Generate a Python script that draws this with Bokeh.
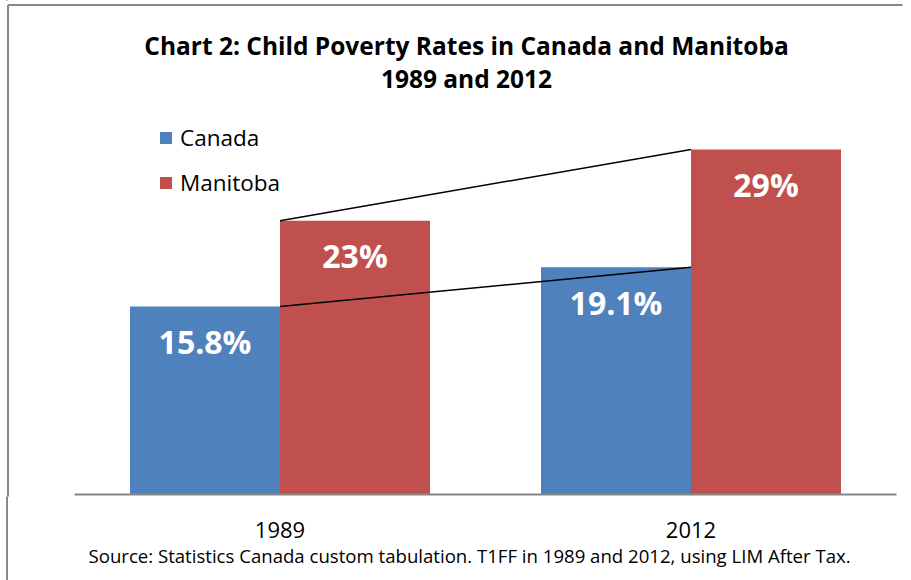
from bokeh.plotting import figure
from bokeh.models import Range1d, FixedTicker, Label, Legend, LegendItem, ColumnDataSource, Title
from bokeh.core.properties import value
from bokeh.embed import file_html
from bokeh.resources import INLINE

# ---- data ----
years = ["1989", "2012"]
canada = [15.8, 19.1]
manitoba = [23.0, 29.0]
series_names = ["Canada", "Manitoba"]
title_line1 = "Chart 2: Child Poverty Rates in Canada and Manitoba"
title_line2 = "1989 and 2012"
source_note = "Source: Statistics Canada custom tabulation. T1FF in 1989 and 2012, using LIM After Tax."

# ---- styling / layout ----
BLUE = "#4F81BD"
RED = "#C0504D"
GRAY = "#868686"
BORDER = "#888888"
FONT = "Open Sans"
PX_X = 411.0   # pixels per category unit
PX_Y = 11.9    # pixels per percentage point
BAR_W = 150 / PX_X
X0 = 74        # pixel of category coordinate 0
Y0 = 494       # pixel of value 0

W, H = 911, 580
frame_h = 496
x_range = Range1d(-X0 / PX_X, 2 + (W - X0 - 2 * PX_X) / PX_X)
y_range = Range1d(-(frame_h - Y0) / PX_Y, Y0 / PX_Y)

def px_x(px):
    return (px - X0) / PX_X

def px_y(py):
    return (Y0 - py) / PX_Y

p = figure(width=W, height=H, x_range=x_range, y_range=y_range,
           output_backend="svg", toolbar_location=None, tools="",
           y_axis_location=None,
           min_border_left=0, min_border_right=0, min_border_top=0,
           min_border_bottom=H - frame_h)
p.outline_line_color = None
p.xgrid.visible = False
p.ygrid.visible = False
p.background_fill_color = "white"
p.border_fill_color = None
p.styles = {"background-color": "white",
            "background-image": f"linear-gradient(to right, transparent 6.5px, {BORDER} 6.5px, "
                                f"{BORDER} 8.5px, transparent 8.5px)"}

centers = [i + 0.5 for i in range(len(years))]
x_can = [c - BAR_W / 2 for c in centers]
x_man = [c + BAR_W / 2 for c in centers]

src_c = ColumnDataSource(dict(x=x_can, top=canada, lab=[f"{v:g}%" for v in canada]))
src_m = ColumnDataSource(dict(x=x_man, top=manitoba, lab=[f"{v:g}%" for v in manitoba]))

r_c = p.vbar(x="x", top="top", bottom=0, width=BAR_W, source=src_c,
             fill_color=BLUE, line_color=None)
r_m = p.vbar(x="x", top="top", bottom=0, width=BAR_W, source=src_m,
             fill_color=RED, line_color=None)

# series lines connecting the tops
p.segment(x0=[centers[0]] * 2, y0=[canada[0], manitoba[0]],
          x1=[centers[1]] * 2, y1=[canada[1], manitoba[1]],
          line_color="black", line_width=1.5)

# baseline
p.segment(x0=[0], y0=[0], x1=[2], y1=[0], line_color=GRAY, line_width=2)

# value labels
for src in (src_c, src_m):
    p.text(x="x", y="top", text="lab", source=src, text_color="white",
           text_font=value(FONT), text_font_style="bold", text_font_size="32px",
           text_align="center", text_baseline="middle", y_offset=35)

# axis
ax = p.xaxis[0]
ax.ticker = FixedTicker(ticks=centers)
ax.major_label_overrides = {c: y for c, y in zip(centers, years)}
ax.axis_line_color = None
ax.major_tick_line_color = None
ax.minor_tick_line_color = None
ax.major_label_text_font = FONT
ax.major_label_text_font_size = "22px"
ax.major_label_text_color = "black"
ax.major_label_standoff = 19

# source note below the axis
p.add_layout(Title(text=source_note, align="left", offset=88, standoff=0,
                   text_font=FONT, text_font_size="18.6px", text_font_style="normal",
                   text_color="black"), "below")

# legend
legend = Legend(items=[LegendItem(label=series_names[0], renderers=[r_c]),
                       LegendItem(label=series_names[1], renderers=[r_m])],
                location=(158, 298), orientation="vertical",
                glyph_width=15, glyph_height=15, label_height=30,
                spacing=14, padding=0, margin=0, label_standoff=7,
                label_text_font=FONT, label_text_font_size="22.5px",
                label_text_color="black",
                border_line_color=None, background_fill_alpha=0)
p.add_layout(legend, "center")

# title lines
for txt, py in ((title_line1, 45), (title_line2, 78)):
    p.add_layout(Label(x=px_x(466), y=px_y(py), text=txt,
                       text_align="center", text_baseline="middle",
                       text_font=FONT, text_font_style="bold", text_font_size="24.5px",
                       text_color="black"))

# chart border (left and top)
x_left = px_x(7.5)
y_top = px_y(4.5)
p.segment(x0=[x_left, x_left], y0=[y_range.start - 10, y_top],
          x1=[x_left, px_x(902)], y1=[y_top, y_top],
          line_color=BORDER, line_width=2)

open("out.html", "w").write(file_html(p, INLINE))
